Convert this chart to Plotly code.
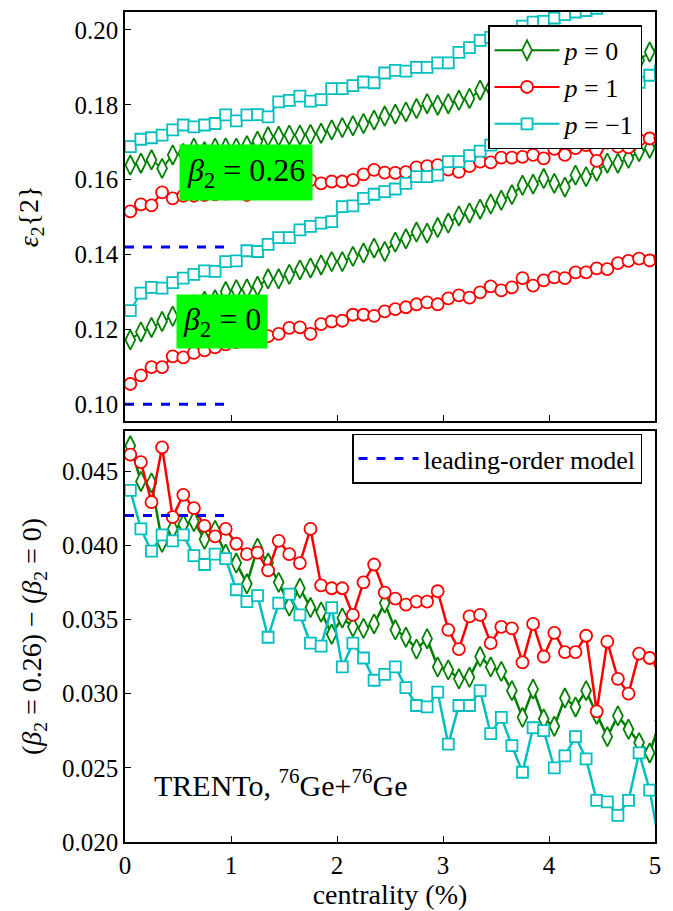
import plotly.graph_objects as go

# centrality bin centres (%)
centrality = [0.05, 0.15, 0.25, 0.35, 0.45, 0.55, 0.65, 0.75, 0.85, 0.95,
              1.05, 1.15, 1.25, 1.35, 1.45, 1.55, 1.65, 1.75, 1.85, 1.95,
              2.05, 2.15, 2.25, 2.35, 2.45, 2.55, 2.65, 2.75, 2.85, 2.95,
              3.05, 3.15, 3.25, 3.35, 3.45, 3.55, 3.65, 3.75, 3.85, 3.95,
              4.05, 4.15, 4.25, 4.35, 4.45, 4.55, 4.65, 4.75, 4.85, 4.95, 5.05]

# eps2{2}, beta2 = 0.26
p0_b026 = [0.1639, 0.1644, 0.1653, 0.1630, 0.1666, 0.1670, 0.1684, 0.1675, 0.1684, 0.1685,
           0.1684, 0.1691, 0.1703, 0.1715, 0.1716, 0.1719, 0.1719, 0.1721, 0.1724, 0.1733,
           0.1739, 0.1744, 0.1750, 0.1759, 0.1770, 0.1775, 0.1781, 0.1790, 0.1803, 0.1799,
           0.1803, 0.1812, 0.1817, 0.1839, 0.1845, 0.1850, 0.1858, 0.1862, 0.1868, 0.1873,
           0.1878, 0.1885, 0.1890, 0.1895, 0.1900, 0.1905, 0.1910, 0.1912, 0.1919, 0.1941, 0.1955]
p1_b026 = [0.1515, 0.1534, 0.1531, 0.1566, 0.1550, 0.1557, 0.1557, 0.1559, 0.1561, 0.1563,
           0.1568, 0.1559, 0.1568, 0.1575, 0.1579, 0.1581, 0.1595, 0.1599, 0.1590, 0.1595,
           0.1595, 0.1599, 0.1614, 0.1626, 0.1619, 0.1618, 0.1620, 0.1633, 0.1636, 0.1639,
           0.1627, 0.1621, 0.1636, 0.1648, 0.1646, 0.1659, 0.1659, 0.1661, 0.1666, 0.1657,
           0.1682, 0.1666, 0.1684, 0.1692, 0.1650, 0.1699, 0.1688, 0.1686, 0.1706, 0.1710, 0.1712]
pm1_b026 = [0.1688, 0.1708, 0.1712, 0.1719, 0.1733, 0.1746, 0.1741, 0.1746, 0.1750, 0.1773,
            0.1757, 0.1773, 0.1774, 0.1768, 0.1808, 0.1812, 0.1823, 0.1810, 0.1814, 0.1843,
            0.1843, 0.1851, 0.1861, 0.1859, 0.1885, 0.1892, 0.1890, 0.1900, 0.1900, 0.1912,
            0.1912, 0.1940, 0.1953, 0.1972, 0.1980, 0.1988, 0.1995, 0.2010, 0.2021, 0.2023,
            0.2032, 0.2041, 0.2048, 0.2052, 0.2058, 0.2065, 0.2075, 0.2085, 0.2100, 0.2114, 0.2120]

# eps2{2}, beta2 = 0
p0_b0 = [0.1172, 0.1193, 0.1205, 0.1221, 0.1235, 0.1248, 0.1266, 0.1275, 0.1279, 0.1301,
         0.1306, 0.1308, 0.1315, 0.1335, 0.1335, 0.1347, 0.1359, 0.1364, 0.1372, 0.1381,
         0.1381, 0.1395, 0.1404, 0.1417, 0.1408, 0.1433, 0.1442, 0.1460, 0.1457, 0.1472,
         0.1484, 0.1503, 0.1511, 0.1521, 0.1535, 0.1545, 0.1560, 0.1585, 0.1588, 0.1603,
         0.1590, 0.1580, 0.1612, 0.1608, 0.1622, 0.1644, 0.1644, 0.1657, 0.1675, 0.1684, 0.1700]
p1_b0 = [0.1054, 0.1077, 0.1099, 0.1099, 0.1128, 0.1125, 0.1137, 0.1144, 0.1152, 0.1160,
         0.1166, 0.1170, 0.1175, 0.1182, 0.1188, 0.1204, 0.1205, 0.1188, 0.1214, 0.1221,
         0.1223, 0.1239, 0.1239, 0.1236, 0.1248, 0.1254, 0.1259, 0.1267, 0.1272, 0.1267,
         0.1283, 0.1291, 0.1285, 0.1299, 0.1315, 0.1304, 0.1312, 0.1337, 0.1317, 0.1331,
         0.1339, 0.1337, 0.1352, 0.1352, 0.1363, 0.1361, 0.1377, 0.1383, 0.1389, 0.1384, 0.1390]
pm1_b0 = [0.1250, 0.1297, 0.1312, 0.1310, 0.1325, 0.1337, 0.1347, 0.1356, 0.1355, 0.1381,
          0.1383, 0.1410, 0.1408, 0.1427, 0.1445, 0.1445, 0.1466, 0.1475, 0.1484, 0.1488,
          0.1528, 0.1530, 0.1550, 0.1561, 0.1568, 0.1575, 0.1590, 0.1608, 0.1608, 0.1612,
          0.1648, 0.1648, 0.1664, 0.1676, 0.1692, 0.1701, 0.1705, 0.1715, 0.1728, 0.1740,
          0.1752, 0.1765, 0.1778, 0.1790, 0.1803, 0.1815, 0.1828, 0.1840, 0.1860, 0.1879, 0.1890]

# difference (beta2 = 0.26) - (beta2 = 0)
p0_diff = [0.0467, 0.0443, 0.0442, 0.0402, 0.0411, 0.0414, 0.0416, 0.0404, 0.0410, 0.0394,
           0.0388, 0.0374, 0.0398, 0.0388, 0.0375, 0.0359, 0.0371, 0.0358, 0.0355, 0.0340,
           0.0351, 0.0345, 0.0344, 0.0347, 0.0361, 0.0343, 0.0338, 0.0330, 0.0337, 0.0318,
           0.0316, 0.0310, 0.0311, 0.0325, 0.0318, 0.0315, 0.0302, 0.0284, 0.0303, 0.0283,
           0.0278, 0.0297, 0.0291, 0.0302, 0.0286, 0.0271, 0.0285, 0.0276, 0.0267, 0.0260, 0.0282]
p1_diff = [0.0461, 0.0456, 0.0429, 0.0466, 0.0419, 0.0434, 0.0425, 0.0413, 0.0406, 0.0411,
           0.0401, 0.0394, 0.0395, 0.0383, 0.0403, 0.0394, 0.0388, 0.0411, 0.0373, 0.0371,
           0.0371, 0.0353, 0.0375, 0.0387, 0.0368, 0.0364, 0.0360, 0.0362, 0.0362, 0.0369,
           0.0343, 0.0330, 0.0352, 0.0353, 0.0334, 0.0345, 0.0344, 0.0321, 0.0347, 0.0325,
           0.0341, 0.0328, 0.0328, 0.0339, 0.0288, 0.0335, 0.0310, 0.0300, 0.0327, 0.0324, 0.0320]
pm1_diff = [0.0437, 0.0411, 0.0396, 0.0407, 0.0403, 0.0407, 0.0393, 0.0387, 0.0394, 0.0391,
            0.0370, 0.0362, 0.0366, 0.0338, 0.0361, 0.0367, 0.0353, 0.0334, 0.0332, 0.0358,
            0.0318, 0.0334, 0.0324, 0.0309, 0.0313, 0.0318, 0.0304, 0.0292, 0.0291, 0.0301,
            0.0266, 0.0292, 0.0292, 0.0302, 0.0273, 0.0284, 0.0265, 0.0247, 0.0277, 0.0275,
            0.0250, 0.0258, 0.0271, 0.0256, 0.0228, 0.0227, 0.0218, 0.0228, 0.0260, 0.0235, 0.0195]

# leading-order model
model_x = [0.0, 1.0]
model_b026 = [0.142, 0.142]
model_b0 = [0.100, 0.100]
model_diff = [0.042, 0.042]

FONT = "Liberation Serif"
GREEN, RED, CYAN, BLUE = "#008000", "#ff0000", "#00bfbf", "#0000ff"

series = [
    ("<i>p</i> = 0", GREEN, "diamond-tall", p0_b026, p0_b0, p0_diff, 14),
    ("<i>p</i> = 1", RED, "circle", p1_b026, p1_b0, p1_diff, 12),
    ("<i>p</i> = \u22121", CYAN, "square", pm1_b026, pm1_b0, pm1_diff, 11),
]

fig = go.Figure()

for name, col, sym, b026, b0, diff, ms in series:
    mk = dict(symbol=sym, size=ms, color="white", line=dict(color=col, width=1.8))
    fig.add_trace(go.Scatter(x=centrality, y=b026, mode="lines+markers", name=name,
                             line=dict(color=col, width=2), marker=mk,
                             legend="legend", xaxis="x", yaxis="y"))
    fig.add_trace(go.Scatter(x=centrality, y=b0, mode="lines+markers", name=name,
                             line=dict(color=col, width=2), marker=mk, showlegend=False,
                             xaxis="x", yaxis="y"))

for yy in (model_b026, model_b0):
    fig.add_trace(go.Scatter(x=model_x, y=yy, mode="lines", showlegend=False,
                             line=dict(color=BLUE, width=3, dash="dash"),
                             xaxis="x", yaxis="y"))

for name, col, sym, b026, b0, diff, ms in series:
    fig.add_trace(go.Scatter(x=centrality, y=diff, mode="lines+markers", showlegend=False,
                             line=dict(color=col, width=2.5),
                             marker=dict(symbol=sym, size=ms, color="white",
                                         line=dict(color=col, width=1.8)),
                             xaxis="x2", yaxis="y2"))

fig.add_trace(go.Scatter(x=model_x, y=model_diff, mode="lines", name="leading-order model",
                         line=dict(color=BLUE, width=3, dash="dash"),
                         legend="legend2", xaxis="x2", yaxis="y2"))

axis_common = dict(showline=True, linecolor="black", linewidth=1.5, mirror=True,
                   ticks="inside", ticklen=6, tickwidth=1.3, tickcolor="black",
                   showgrid=False, zeroline=False,
                   tickfont=dict(family=FONT, size=25, color="black"))

fig.update_layout(
    width=665, height=903,
    margin=dict(l=117, r=18, t=2, b=69),
    paper_bgcolor="white", plot_bgcolor="white",
    font=dict(family=FONT, color="black"),
    xaxis=dict(domain=[0, 1], range=[0, 5], anchor="y", matches="x2",
               showticklabels=False, tickvals=[0, 1, 2, 3, 4, 5], **axis_common),
    yaxis=dict(domain=[0.5072, 1.0], range=[0.0955, 0.2048], anchor="x",
               tickvals=[0.10, 0.12, 0.14, 0.16, 0.18, 0.20], tickformat=".2f",
               title=dict(text="<i>ε</i><sub>2</sub>{2}", font=dict(family=FONT, size=28),
                          standoff=28),
               **axis_common),
    xaxis2=dict(domain=[0, 1], range=[0, 5], anchor="y2",
                tickvals=[0, 1, 2, 3, 4, 5],
                title=dict(text="centrality (%)", font=dict(family=FONT, size=28),
                           standoff=4),
                **axis_common),
    yaxis2=dict(domain=[0, 0.4952], range=[0.020, 0.0477], anchor="x2",
                tickvals=[0.020, 0.025, 0.030, 0.035, 0.040, 0.045], tickformat=".3f",
                title=dict(text="(<i>β</i><sub>2</sub> = 0.26) \u2212 (<i>β</i><sub>2</sub> = 0)",
                           font=dict(family=FONT, size=28), standoff=12),
                **axis_common),
    legend=dict(x=0.9755, y=0.984, xanchor="right", yanchor="top",
                bgcolor="white", bordercolor="black", borderwidth=1.5,
                font=dict(family=FONT, size=26), itemwidth=65,
                tracegroupgap=0),
    legend2=dict(x=0.9755, y=0.492, xanchor="right", yanchor="top",
                 bgcolor="white", bordercolor="black", borderwidth=1.5,
                 font=dict(family=FONT, size=26), itemwidth=60),
    annotations=[
        dict(x=1.14, y=0.162, xref="x", yref="y", text="<i>β</i><sub>2</sub> = 0.26",
             showarrow=False, bgcolor="#00ff00", borderpad=7,
             font=dict(family=FONT, size=32, color="black")),
        dict(x=0.915, y=0.1221, xref="x", yref="y", text="<i>β</i><sub>2</sub> = 0",
             showarrow=False, bgcolor="#00ff00", borderpad=6,
             font=dict(family=FONT, size=32, color="black")),
        dict(x=0.255, y=0.024, xref="x2", yref="y2", xanchor="left",
             text="TRENTo, <sup>76</sup>Ge+<sup>76</sup>Ge",
             showarrow=False, font=dict(family=FONT, size=30, color="black")),
    ],
)

fig.write_html("out.html")
